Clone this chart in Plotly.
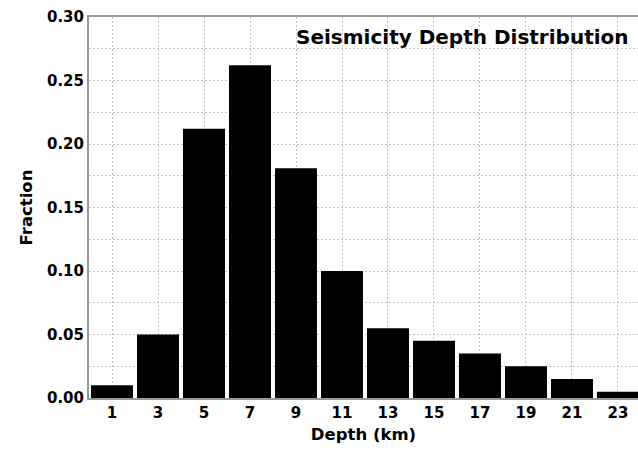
import plotly.graph_objects as go

depth = [1, 3, 5, 7, 9, 11, 13, 15, 17, 19, 21, 23]
fraction = [0.010, 0.050, 0.212, 0.262, 0.181, 0.100, 0.055, 0.045, 0.035, 0.025, 0.015, 0.005]
y_ticks = [0.00, 0.05, 0.10, 0.15, 0.20, 0.25, 0.30]
y_tick_text = ["0.00", "0.05", "0.10", "0.15", "0.20", "0.25", "0.30"]

font_family = "DejaVu Sans, Verdana, sans-serif"
grid_dash = "2px,2px"

fig = go.Figure(go.Bar(x=depth, y=fraction, marker=dict(color="black", line=dict(width=0))))

fig.update_layout(
    width=638, height=451,
    margin=dict(l=89, r=0, t=17, b=53, autoexpand=False),
    paper_bgcolor="white", plot_bgcolor="white",
    bargap=0.087,
    showlegend=False,
    font=dict(family=font_family, color="black"),
    annotations=[dict(
        text="Seismicity Depth Distribution", xref="paper", yref="paper",
        x=0.988, y=0.985, xanchor="right", yanchor="top", showarrow=False,
        font=dict(size=20, family=font_family, color="black", weight="bold"),
    )],
)

fig.update_xaxes(
    range=[0, 23.87], tickvals=depth, ticktext=[str(d) for d in depth],
    tickfont=dict(size=15, weight="bold"),
    showgrid=True, gridcolor="#c4c4c4", griddash=grid_dash, gridwidth=1,
    showline=True, linecolor="#999999", linewidth=2, mirror=True,
    ticks="", zeroline=False, automargin=False,
    title=dict(text="Depth (km)", font=dict(size=16.5, weight="bold"), standoff=7),
)
fig.update_yaxes(
    range=[0, 0.30], tickvals=y_ticks, ticktext=y_tick_text,
    tickfont=dict(size=15, weight="bold"),
    showgrid=True, gridcolor="#c4c4c4", griddash=grid_dash, gridwidth=1,
    minor=dict(dtick=0.025, showgrid=True, gridcolor="#c4c4c4", griddash=grid_dash, gridwidth=1),
    showline=True, linecolor="#999999", linewidth=2, mirror=False,
    ticks="", zeroline=False, automargin=False,
    title=dict(text="Fraction", font=dict(size=16.5, weight="bold"), standoff=10),
)

fig.write_html(
    "out.html",
    config={"displayModeBar": False},
    post_script="document.body.style.margin='0';document.body.style.overflow='hidden';",
)
